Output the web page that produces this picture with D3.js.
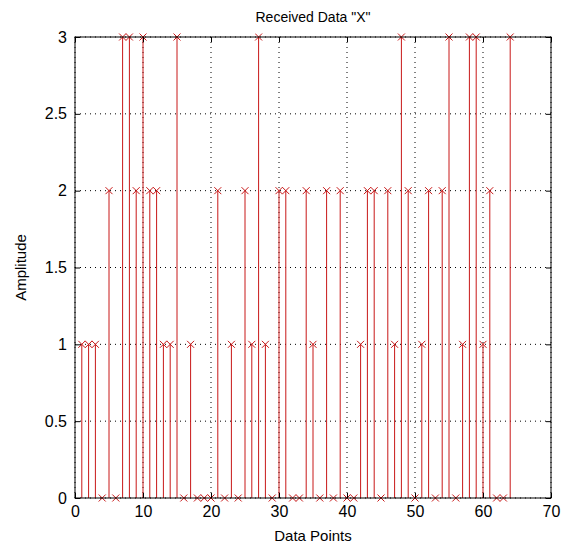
<!DOCTYPE html>
<html>
<head>
<meta charset="utf-8">
<script src="https://cdn.jsdelivr.net/npm/d3@7"></script>
<style>
  body { margin: 0; background: #fff; }
  text { font-family: Arial, "Liberation Sans", sans-serif; }
</style>
</head>
<body>
<svg id="chart" width="568" height="546"></svg>
<script>
// received symbols, indices 1..64
let xs = d3.range(1, 65);
let values = [
  1, 1, 1, 0, 2, 0, 3, 3, 2, 3, 2, 2, 1, 1, 3, 0,
  1, 0, 0, 0, 2, 0, 1, 0, 2, 1, 3, 1, 0, 2, 2, 0,
  0, 2, 1, 0, 2, 0, 2, 0, 0, 1, 2, 2, 0, 2, 1, 3,
  2, 0, 1, 2, 0, 2, 3, 0, 1, 3, 3, 1, 2, 0, 0, 3
];
let xTicks = [0, 10, 20, 30, 40, 50, 60, 70];
let yTicks = [0, 0.5, 1, 1.5, 2, 2.5, 3];

let svg = d3.select("#chart");
let margin = { left: 75, right: 17, top: 37, bottom: 48 };
let width = +svg.attr("width") - margin.left - margin.right;
let height = +svg.attr("height") - margin.top - margin.bottom;

let x = d3.scaleLinear().domain([0, 70]).range([0, width]);
let y = d3.scaleLinear().domain([0, 3]).range([height, 0]);

let g = svg.append('g')
    .attr('transform', `translate(${margin.left}, ${margin.top})`);

// dotted grid
g.append('g').selectAll('line').data(xTicks).join('line')
    .attr('x1', d => x(d)).attr('x2', d => x(d))
    .attr('y1', 0).attr('y2', height)
    .attr('stroke', '#000').attr('stroke-width', 1)
    .attr('stroke-dasharray', '1,4');
g.append('g').selectAll('line').data(yTicks).join('line')
    .attr('x1', 0).attr('x2', width)
    .attr('y1', d => y(d)).attr('y2', d => y(d))
    .attr('stroke', '#000').attr('stroke-width', 1)
    .attr('stroke-dasharray', '1,4');

// stems
let pts = xs.map((d, i) => ({ x: d, v: values[i] }));
let red = '#c81818';
g.append('g').selectAll('line').data(pts).join('line')
    .attr('x1', d => x(d.x)).attr('x2', d => x(d.x))
    .attr('y1', y(0)).attr('y2', d => y(d.v))
    .attr('stroke', red).attr('stroke-width', 1);

// x markers
let s = 3.5;
g.append('g').selectAll('path').data(pts).join('path')
    .attr('d', d => {
        let cx = x(d.x), cy = y(d.v);
        return `M${cx - s},${cy - s}L${cx + s},${cy + s}M${cx - s},${cy + s}L${cx + s},${cy - s}`;
    })
    .attr('stroke', red).attr('stroke-width', 1).attr('fill', 'none');

// axes, ticks inside
let fmt = d => String(d);
let xAxis = d3.axisBottom(x).tickValues(xTicks).tickSize(-5).tickPadding(8).tickFormat(fmt);
let yAxis = d3.axisLeft(y).tickValues(yTicks).tickSize(-5).tickPadding(8).tickFormat(fmt);
let xTop = d3.axisTop(x).tickValues(xTicks).tickSize(-5).tickFormat('');
let yRight = d3.axisRight(y).tickValues(yTicks).tickSize(-5).tickFormat('');

function style(sel) {
    sel.select('.domain').remove();
    sel.selectAll('line').attr('stroke', '#000');
    sel.selectAll('text').attr('font-size', 16).attr('fill', '#000');
}
g.append('g').attr('transform', `translate(0, ${height})`).call(xAxis).call(style);
g.append('g').call(yAxis).call(style);
g.append('g').call(xTop).call(style);
g.append('g').attr('transform', `translate(${width}, 0)`).call(yRight).call(style);

g.append('rect')
    .attr('width', width).attr('height', height)
    .attr('fill', 'none').attr('stroke', '#000').attr('stroke-width', 1);

// labels
svg.append('text')
    .attr('x', margin.left + width / 2).attr('y', 22)
    .attr('text-anchor', 'middle').attr('font-size', 14)
    .text('Received Data "X"');
svg.append('text')
    .attr('x', margin.left + width / 2).attr('y', 541)
    .attr('text-anchor', 'middle').attr('font-size', 15)
    .text('Data Points');
svg.append('text')
    .attr('transform', `translate(26, ${margin.top + height / 2}) rotate(-90)`)
    .attr('text-anchor', 'middle').attr('font-size', 15)
    .text('Amplitude');
</script>
</body>
</html>
